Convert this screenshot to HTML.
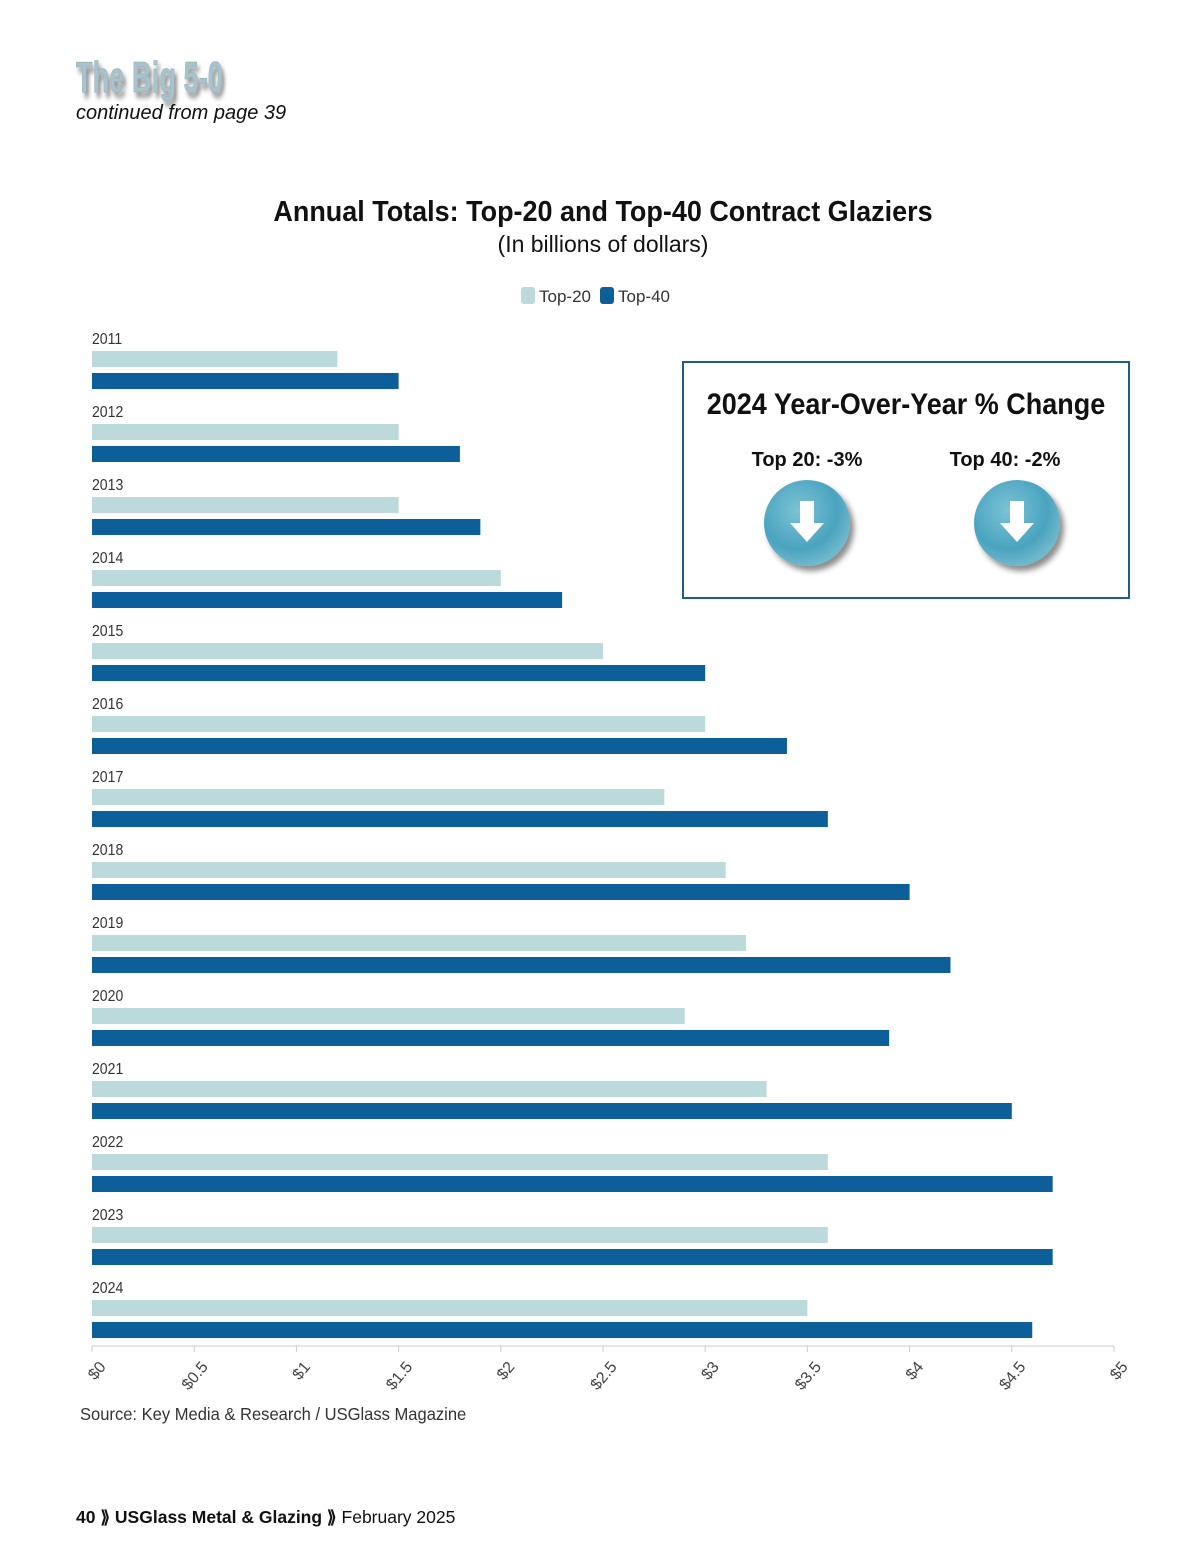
<!DOCTYPE html>
<html><head><meta charset="utf-8"><style>
body{margin:0;background:#fff;width:1200px;height:1558px;overflow:hidden;font-family:"Liberation Sans",sans-serif}
</style></head><body>
<svg width="1200" height="1558" style="position:absolute;left:0;top:0">
<defs>
<radialGradient id="bg" cx="40%" cy="35%" r="65%"><stop offset="0" stop-color="#7cc3d6"/><stop offset="0.7" stop-color="#4aa3bf"/><stop offset="1" stop-color="#6fb8cc"/></radialGradient>
<filter id="sh" x="-30%" y="-30%" width="170%" height="170%"><feDropShadow dx="4" dy="5" stdDeviation="3" flood-color="#000" flood-opacity="0.45"/></filter>
</defs>
<text x="76" y="92" font-family="'Liberation Sans Narrow','Liberation Sans',sans-serif" font-weight="bold" font-size="44" fill="#a9c3cc" stroke="#8aa7b2" stroke-width="0.5" filter="url(#sh)" transform="translate(76,0) scale(0.62,1) translate(-76,0)">The Big 5-0</text>
<text x="76" y="119" font-size="20" font-style="italic" fill="#111">continued from page 39</text>
<text x="603" y="221" text-anchor="middle" font-size="29" font-weight="bold" fill="#111" transform="translate(603,0) scale(0.93,1) translate(-603,0)">Annual Totals: Top-20 and Top-40 Contract Glaziers</text>
<text x="603" y="252" text-anchor="middle" font-size="23" fill="#111">(In billions of dollars)</text>
<g>
<rect x="521" y="287" width="14" height="17" rx="3" fill="#bcd9dc"/>
<text x="539" y="302" font-size="17" fill="#333">Top-20</text>
<rect x="600" y="287" width="14" height="17" rx="3" fill="#0d5f99"/>
<text x="618" y="302" font-size="17" fill="#333">Top-40</text>
</g>
<g id="chart"></g>
<text x="80" y="1420" font-size="18" fill="#333" transform="translate(80,0) scale(0.92,1) translate(-80,0)">Source: Key Media &amp; Research / USGlass Magazine</text>
<g>
<rect x="683" y="362" width="446" height="236" fill="#fff" stroke="#1d5f86" stroke-width="2"/>
<text x="906" y="414" text-anchor="middle" font-size="30" font-weight="bold" fill="#111" transform="translate(906,0) scale(0.9,1) translate(-906,0)">2024 Year-Over-Year % Change</text>
<text x="807" y="466" text-anchor="middle" font-size="20" font-weight="bold" fill="#111">Top 20: -3%</text>
<text x="1005" y="466" text-anchor="middle" font-size="20" font-weight="bold" fill="#111">Top 40: -2%</text>
<g><circle cx="807" cy="523" r="43" fill="url(#bg)" filter="url(#sh)"/><path d="M800 501h14v22h10l-17 19-17-19h10z" fill="#fff"/></g>
<g><circle cx="1017" cy="523" r="43" fill="url(#bg)" filter="url(#sh)"/><path d="M1010 501h14v22h10l-17 19-17-19h10z" fill="#fff"/></g>
</g>
<text x="76" y="1523" font-size="17.5" fill="#111"><tspan font-weight="bold">40 ⟫ USGlass Metal &amp; Glazing ⟫</tspan> February 2025</text>
</svg>
<script>
const years=[2011,2012,2013,2014,2015,2016,2017,2018,2019,2020,2021,2022,2023,2024];
const top20=[1.2,1.5,1.5,2.0,2.5,3.0,2.8,3.1,3.2,2.9,3.3,3.6,3.6,3.5];
const top40=[1.5,1.8,1.9,2.3,3.0,3.4,3.6,4.0,4.2,3.9,4.5,4.7,4.7,4.6];
const ticks=[0,0.5,1,1.5,2,2.5,3,3.5,4,4.5,5];
const tickLabels=["$0","$0.5","$1","$1.5","$2","$2.5","$3","$3.5","$4","$4.5","$5"];
const NS="http://www.w3.org/2000/svg";
const g=document.getElementById('chart');
const x=v=>92+v*204.4;
const yRow=i=>330+i*73;
function mk(t,a){const e=document.createElementNS(NS,t);for(const k in a)e.setAttribute(k,a[k]);g.appendChild(e);return e;}
years.forEach((yr,i)=>{
 const y0=yRow(i);
 const l=mk('text',{x:92,y:y0+14,'font-size':16,fill:'#333',transform:`translate(92,0) scale(0.88,1) translate(-92,0)`});l.textContent=yr;
 
 
 const a=mk('rect',{x:x(0),y:y0+21,width:x(top20[i])-x(0),height:16,fill:'#bcd9dc'});
 
 
 const b=mk('rect',{x:x(0),y:y0+43,width:x(top40[i])-x(0),height:16,fill:'#0d5f99'});
 
 
});
const ax=mk('line',{x1:x(0),x2:x(5),y1:1346,y2:1346,stroke:'#ccc','stroke-width':1});


ticks.forEach((v,i)=>{
 const tk=mk('line',{x1:x(v),x2:x(v),y1:1346,y2:1352,stroke:'#ccc'});
 
 
 const t=mk('text',{x:x(v)+6,y:1360,'font-size':16,fill:'#444','text-anchor':'end',transform:`rotate(-50 ${x(v)+6} 1360)`});
 t.setAttribute('dy','0.7em');
 t.textContent=tickLabels[i];
 
 
});
</script>
</body></html>
